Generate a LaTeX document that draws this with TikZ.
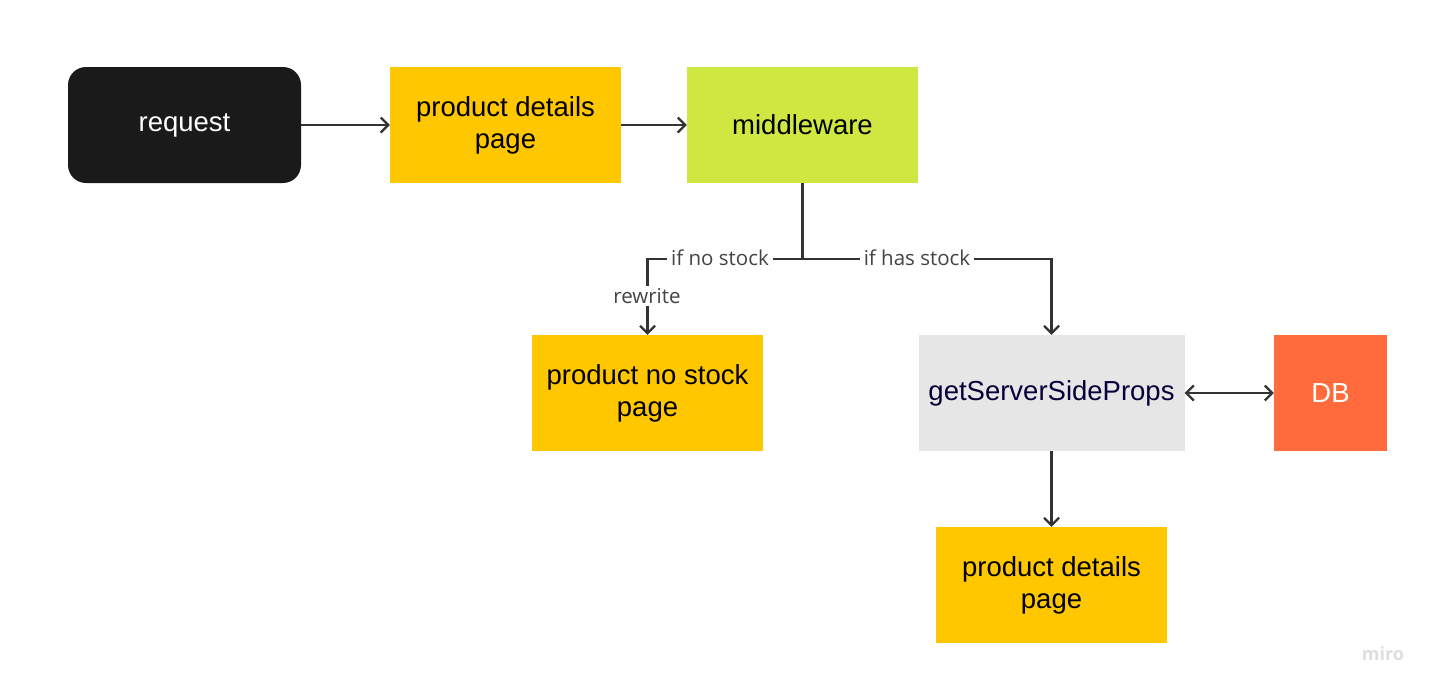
\documentclass[tikz,border=0pt]{standalone}
\usepackage{fontspec}
\setmainfont{Liberation Sans}
\newfontfamily\lblfont{Open Sans}
\usetikzlibrary{arrows.meta}
\definecolor{cyellow}{HTML}{FFC700}
\definecolor{cgreen}{HTML}{CEE741}
\definecolor{cgray}{HTML}{E6E6E6}
\definecolor{corange}{HTML}{FF6B3D}
\definecolor{cblack}{HTML}{1A1A1A}
\definecolor{cnavy}{HTML}{050038}
\definecolor{cline}{HTML}{333333}
\definecolor{clabel}{HTML}{444444}
\begin{document}
\begin{tikzpicture}[x=1pt,y=-1pt,
  box/.style={draw=none,minimum width=231pt,minimum height=116pt,align=center,font=\fontsize{27.5}{32}\selectfont,inner sep=0pt},
  tip/.style={Straight Barb[length=7.5pt,width=15pt,line width=2.2pt]},
  conn/.style={draw=cline,line width=2.2pt,-{Straight Barb[length=7.5pt,width=15pt,line width=2.2pt]}},
  lbl/.style={fill=white,text=clabel,font=\lblfont\fontsize{20.5}{24}\selectfont,inner sep=4pt}]
\useasboundingbox (0,0) rectangle (1439,694);
\node[box,fill=cblack,text=white,rounded corners=18pt,minimum width=233pt] (req) at (184.5,125) {request};
\node[box,fill=cyellow] (pdp) at (505.5,125) {product details\\page};
\node[box,fill=cgreen] (mw) at (802.5,125) {middleware};
\node[box,fill=cyellow] (nostock) at (647.5,393) {product no stock\\page};
\node[box,fill=cgray,text=cnavy,minimum width=266pt] (gssp) at (1051.5,393) {getServerSideProps};
\node[box,fill=corange,text=white,minimum width=113pt] (db) at (1330.5,393) {DB};
\node[box,fill=cyellow] (pdp2) at (1051.5,585) {product details\\page};
\coordinate (split) at (802.5,259);
\draw[conn] (req.east) -- (pdp.west);
\draw[conn] (pdp.east) -- (mw.west);
\draw[conn] (mw.south) -- (split) -| (nostock.north);
\draw[conn] (split) -| (gssp.north);
\draw[conn,{Straight Barb[length=7.5pt,width=15pt,line width=2.2pt]}-{Straight Barb[length=7.5pt,width=15pt,line width=2.2pt]}] (gssp.east) -- (db.west);
\draw[conn] (gssp.south) -- (pdp2.north);
\node[lbl] (l1) at (720,258) {if no stock};
\node[lbl] (l2) at (917,258) {if has stock};
\node[lbl,inner sep=2pt] (l3) at (647,296) {rewrite};
\node[text=black!13,font=\lblfont\bfseries\fontsize{18}{20}\selectfont] (miro) at (1383,654) {miro};
\end{tikzpicture}
\end{document}
